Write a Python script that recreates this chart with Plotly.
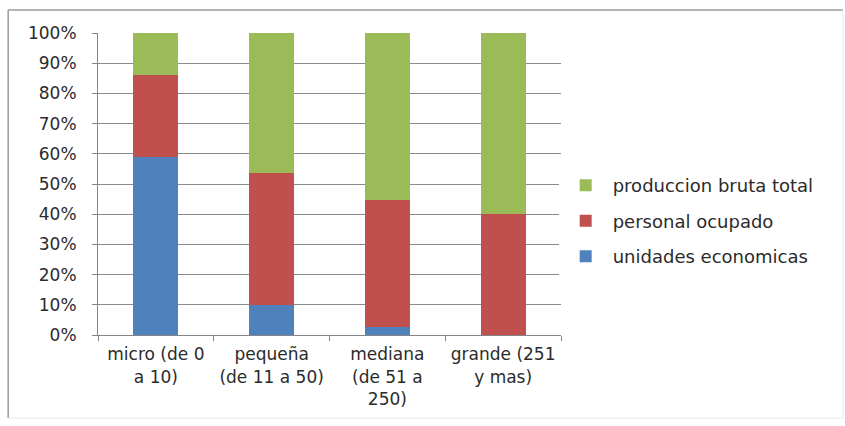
import plotly.graph_objects as go

# Company size categories (x axis)
categories = [
    "micro (de 0<br>a 10)",
    "pequeña<br>(de 11 a 50)",
    "mediana<br>(de 51 a<br>250)",
    "grande (251<br>y mas)",
]

# Share of each indicator per size class (percent)
unidades_economicas = [59.0, 10.0, 2.8, 0.1]
personal_ocupado = [27.0, 43.5, 42.0, 39.9]
produccion_bruta_total = [14.0, 46.5, 55.2, 60.0]

y_ticks = [0, 10, 20, 30, 40, 50, 60, 70, 80, 90, 100]
y_tick_labels = [f"{v}%" for v in y_ticks]

# (name, values, colour, position in legend)
series = [
    ("unidades economicas", unidades_economicas, "#4F81BD", 3),
    ("personal ocupado", personal_ocupado, "#C0504D", 2),
    ("produccion bruta total", produccion_bruta_total, "#9BBB59", 1),
]

font_family = "DejaVu Sans, sans-serif"
text_color = "#2B2B2B"

fig = go.Figure()
for name, values, color, rank in series:
    fig.add_trace(go.Bar(
        x=categories,
        y=values,
        name=name,
        legendgroup=name,
        legendrank=rank,
        marker=dict(color=color, line=dict(width=0)),
        width=0.39,
    ))

# frame around the whole chart, in plot-area paper units
fx0, fx1, fy0, fy1 = -0.194, 1.609, -0.275, 1.076

fig.update_layout(
    barmode="stack",
    width=845,
    height=426,
    margin=dict(l=98, r=284, t=33, b=91),
    paper_bgcolor="white",
    plot_bgcolor="white",
    font=dict(family=font_family, size=17, color=text_color),
    showlegend=True,
    legend=dict(
        traceorder="grouped",
        tracegroupgap=9,
        x=0.995,
        xanchor="left",
        y=0.377,
        yanchor="middle",
        font=dict(family=font_family, size=18, color=text_color),
        itemwidth=44,
    ),
    xaxis=dict(
        showgrid=False,
        showline=True,
        linecolor="#868686",
        linewidth=1,
        ticks="outside",
        tickson="boundaries",
        ticklen=5,
        tickcolor="#868686",
        tickfont=dict(size=17),
        ticklabelstandoff=4,
    ),
    yaxis=dict(
        range=[0, 100],
        tickvals=y_ticks,
        ticktext=y_tick_labels,
        showgrid=True,
        gridcolor="#8C8C8C",
        gridwidth=1,
        showline=True,
        linecolor="#868686",
        linewidth=1,
        ticks="outside",
        ticklen=5,
        tickcolor="#868686",
        zeroline=False,
        tickfont=dict(size=17),
        ticklabelstandoff=12,
    ),
    shapes=[
        dict(type="line", xref="paper", yref="paper", x0=fx0, x1=fx1, y0=fy1, y1=fy1,
             line=dict(color="#9A9A9A", width=1.5)),
        dict(type="line", xref="paper", yref="paper", x0=fx0, x1=fx0, y0=fy1, y1=fy0,
             line=dict(color="#9A9A9A", width=1.5)),
        dict(type="line", xref="paper", yref="paper", x0=fx1, x1=fx1, y0=fy1, y1=fy0,
             line=dict(color="#E8E8E8", width=1)),
        dict(type="line", xref="paper", yref="paper", x0=fx0, x1=fx1, y0=fy0, y1=fy0,
             line=dict(color="#E8E8E8", width=1)),
    ],
)

fig.write_html("out.html")
